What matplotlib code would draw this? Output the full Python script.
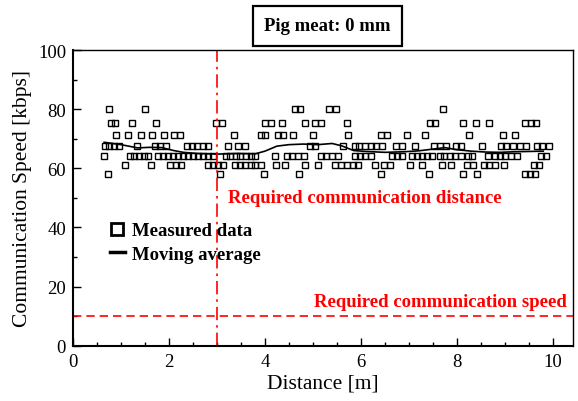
import numpy as np
import matplotlib
matplotlib.use("Agg")
from matplotlib import pyplot as plt
from matplotlib.lines import Line2D
from matplotlib.ticker import MultipleLocator

plt.rcParams["font.family"] = ["Liberation Serif", "DejaVu Serif"]

# measured speed is quantised, so the points are grouped by level [kbps]
levels = [80.0, 75.3, 71.1, 67.4, 64.0, 61.0, 58.2]

dist_80 = [0.76, 1.51, 4.62, 4.74, 5.33, 5.48, 7.72]
dist_75 = [0.80, 0.88, 1.23, 1.74, 2.99, 3.10, 4.01, 4.13, 4.36, 4.84, 5.05,
           5.17, 5.72, 7.43, 7.54, 8.13, 8.40, 8.67, 9.43, 9.54, 9.65]
dist_71 = [0.90, 1.15, 1.42, 1.65, 1.90, 2.10, 2.24, 3.35, 3.91, 4.01, 4.27,
           4.37, 4.58, 5.00, 5.74, 6.42, 6.55, 6.97, 7.33, 8.26, 8.96, 9.22]
dist_67 = [0.66, 0.76, 0.85, 0.95, 1.34, 1.70, 1.81, 1.94, 2.37, 2.47, 2.58,
           2.71, 2.81, 3.23, 3.44, 3.58, 4.93, 5.04, 5.63, 5.87, 5.97, 6.09,
           6.22, 6.32, 6.44, 6.74, 6.85, 7.12, 7.53, 7.64, 7.78, 7.99, 8.08,
           8.52, 8.92, 9.03, 9.17, 9.31, 9.45, 9.66, 9.77, 9.91]
dist_64 = [0.65, 1.18, 1.27, 1.37, 1.47, 1.56, 1.77, 1.88, 1.98, 2.08, 2.19,
           2.29, 2.40, 2.50, 2.60, 2.71, 2.81, 2.92, 3.18, 3.28, 3.39, 3.49,
           3.60, 3.70, 3.80, 4.20, 4.45, 4.56, 4.69, 4.81, 5.16, 5.28, 5.40,
           5.52, 5.88, 5.98, 6.09, 6.22, 6.65, 6.75, 6.85, 7.06, 7.16, 7.27,
           7.37, 7.48, 7.64, 7.74, 7.85, 7.97, 8.09, 8.23, 8.31, 8.65, 8.79,
           8.89, 9.00, 9.12, 9.26, 9.76, 9.86]
dist_61 = [1.08, 1.63, 2.03, 2.14, 2.26, 2.81, 2.92, 3.02, 3.13, 3.38, 3.49,
           3.59, 3.70, 3.80, 3.92, 4.24, 4.41, 4.83, 5.10, 5.45, 5.59, 5.71,
           5.83, 5.95, 6.30, 6.49, 6.60, 7.03, 7.27, 7.69, 7.88, 8.22, 8.33,
           8.56, 8.68, 8.80, 8.99, 9.60, 9.71]
dist_58 = [0.72, 3.06, 3.99, 4.72, 6.42, 7.41, 8.12, 8.42, 9.41, 9.52, 9.62]

# moving average of the measurement
ma_dist = [0.65, 1.0, 1.35, 1.6, 1.85, 2.1, 2.3, 2.6, 3.0, 3.4, 3.8, 4.0,
           4.25, 4.5, 4.8, 5.1, 5.4, 5.6, 5.85, 6.1, 6.5, 6.9, 7.2, 7.5,
           7.75, 8.0, 8.3, 8.6, 8.9, 9.2, 9.5, 9.8]
ma_speed = [68.8, 68.0, 66.9, 67.1, 67.0, 66.0, 65.4, 65.0, 64.8, 65.0,
            64.9, 65.8, 67.5, 68.0, 68.2, 68.0, 68.4, 67.6, 66.0, 65.7,
            65.4, 65.6, 65.9, 66.5, 67.0, 66.3, 65.8, 65.5, 65.4, 65.6,
            65.7, 65.8]

req_distance = 3.0   # m
req_speed = 10.0     # kbps

dists = [dist_80, dist_75, dist_71, dist_67, dist_64, dist_61, dist_58]
x = np.concatenate([np.asarray(d) for d in dists])
y = np.concatenate([np.full(len(d), lv) for d, lv in zip(dists, levels)])

fig = plt.figure(figsize=(5.78, 4.02), dpi=100)
ax = fig.add_axes([0.1263, 0.1376, 0.8650, 0.7354])

ax.plot(x, y, ls="none", marker="s", ms=3.7, mfc="none", mec="black", mew=1.0)
ax.plot(ma_dist, ma_speed, color="black", lw=1.2)

ax.axvline(req_distance, color="red", lw=1.2, ls=(0, (8, 3, 1.5, 3)))
ax.axhline(req_speed, color="red", lw=1.2, ls=(0, (5, 3)))

ax.text(3.22, 50, "Required communication distance", color="red",
        fontsize=13.5, fontweight="bold", ha="left", va="center")
ax.text(10.3, 14.8, "Required communication speed", color="red",
        fontsize=13.5, fontweight="bold", ha="right", va="center")

ax.set_xlim(0, 10.42)
ax.set_ylim(0, 100)
ax.xaxis.set_major_locator(MultipleLocator(2))
ax.xaxis.set_minor_locator(MultipleLocator(0.5))
ax.yaxis.set_major_locator(MultipleLocator(20))
ax.yaxis.set_minor_locator(MultipleLocator(10))
ax.tick_params(which="both", direction="in", top=False, right=False,
               labelsize=13.5, width=1.0, pad=5)
ax.tick_params(which="major", length=6)
ax.tick_params(which="minor", length=3)
for side in ("left", "bottom"):
    ax.spines[side].set_linewidth(1.5)
for side in ("top", "right"):
    ax.spines[side].set_linewidth(1.0)

ax.set_xlabel("Distance [m]", fontsize=15.5, labelpad=3)
ax.set_ylabel("Communication Speed [kbps]", fontsize=15.5, labelpad=4)

handles = [
    Line2D([], [], ls="none", marker="s", ms=9, mfc="none", mec="black", mew=2.0),
    Line2D([], [], color="black", lw=2.5),
]
ax.legend(handles, ["Measured data", "Moving average"], loc="upper left",
          bbox_to_anchor=(0.04, 0.475), frameon=False, handlelength=0.8,
          handletextpad=0.4, labelspacing=0.35,
          prop={"size": 13.5, "weight": "bold"})

fig.text(0.566, 0.933, "Pig meat: 0 mm", fontsize=13.5, fontweight="bold",
         ha="center", va="center",
         bbox=dict(boxstyle="square,pad=0.6", fc="white", ec="black", lw=1.6))

fig.savefig("out.png", dpi=100)
